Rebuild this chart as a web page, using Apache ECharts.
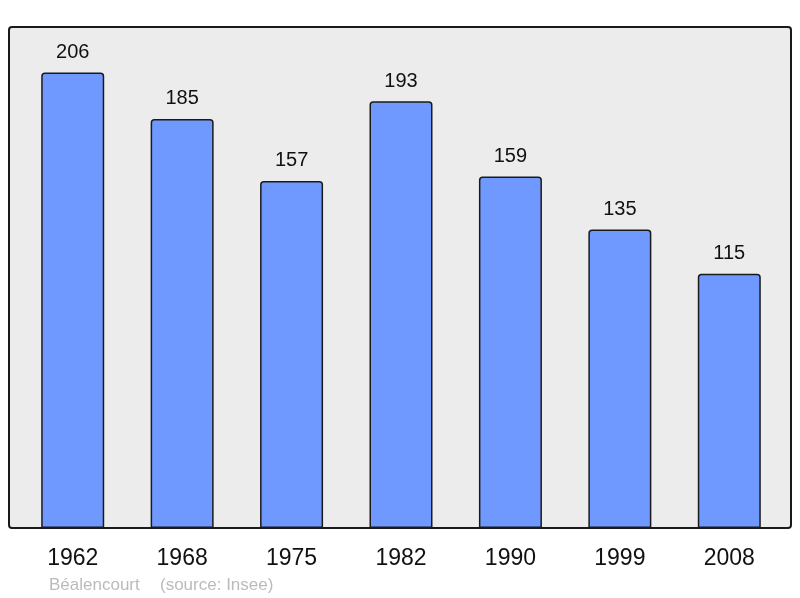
<!DOCTYPE html>
<html>
<head>
<meta charset="utf-8">
<script src="https://cdn.jsdelivr.net/npm/echarts@6/dist/echarts.min.js"></script>
<style>
  html, body { margin: 0; padding: 0; background: #fff; }
  #chart { width: 800px; height: 598px; }
</style>
</head>
<body>
<div id="chart"></div>
<script>
// recensements
var years = ['1962', '1968', '1975', '1982', '1990', '1999', '2008'];
var population = [206, 185, 157, 193, 159, 135, 115];

var chart = echarts.init(document.getElementById('chart'));
chart.setOption({
  animation: false,
  textStyle: { fontFamily: 'Liberation Sans, Arial, sans-serif' },
  grid: { left: 18, right: 16, top: 27, bottom: 70 },
  graphic: [
    {
      type: 'rect',
      z: 0,
      shape: { x: 9, y: 27, width: 782, height: 501, r: 3 },
      style: { fill: '#ececec', stroke: '#1a1a1a', lineWidth: 2 }
    },
    {
      type: 'text',
      left: 49, top: 577,
      style: { text: 'Béalencourt', fill: '#bbbbbb', font: '17px Liberation Sans, Arial, sans-serif' }
    },
    {
      type: 'text',
      left: 160, top: 577,
      style: { text: '(source: Insee)', fill: '#bbbbbb', font: '17px Liberation Sans, Arial, sans-serif' }
    }
  ],
  xAxis: {
    type: 'category',
    data: years,
    axisLine: { show: false },
    axisTick: { show: false },
    axisLabel: { color: '#111', fontSize: 23, margin: 19 }
  },
  yAxis: {
    type: 'value',
    min: 0,
    max: 226.6,
    show: false,
    splitLine: { show: false }
  },
  series: [{
    type: 'bar',
    data: population,
    barWidth: 63,
    z: 2,
    itemStyle: {
      color: '#7099ff',
      borderColor: '#1a1a1a',
      borderWidth: 1.5,
      borderRadius: [3, 3, 0, 0]
    },
    label: {
      show: true,
      position: 'top',
      distance: 10,
      color: '#111',
      fontSize: 20
    }
  }]
});
</script>
</body>
</html>
